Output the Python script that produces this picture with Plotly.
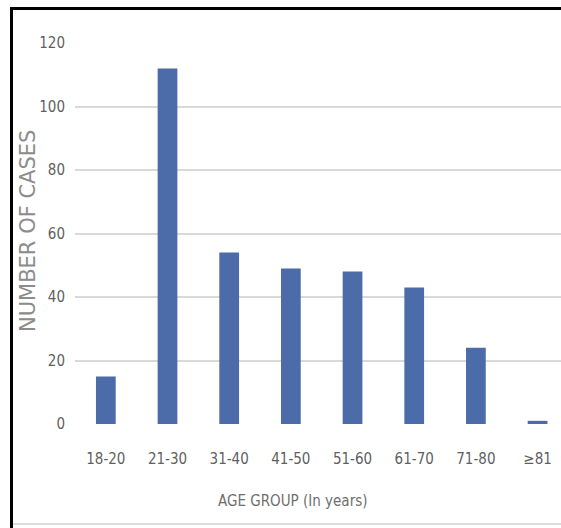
import plotly.graph_objects as go

categories = ["18-20", "21-30", "31-40", "41-50", "51-60", "61-70", "71-80", "≥81"]
cases = [15, 112, 54, 49, 48, 43, 24, 1]
y_ticks = [0, 20, 40, 60, 80, 100, 120]

W, H = 561, 528
L, R, T, B = 75, 0, 43, 104
pw, ph = W - L - R, H - T - B

def px_x(x):
    return (x - L) / pw

def px_y(y):
    return (H - B - y) / ph

narrow = "Liberation Sans Narrow, DejaVu Sans Condensed, sans-serif"

fig = go.Figure(go.Bar(
    x=list(range(len(categories))),
    y=cases,
    marker=dict(color="#4b6ca8", line=dict(width=0)),
    width=0.32,
    hoverinfo="skip",
))

fig.update_layout(
    width=W, height=H,
    margin=dict(l=L, r=R, t=T, b=B, pad=0),
    paper_bgcolor="white",
    plot_bgcolor="white",
    showlegend=False,
    xaxis=dict(
        range=[-0.5, 7.38],
        tickmode="array",
        tickvals=list(range(len(categories))),
        ticktext=categories,
        showgrid=False,
        zeroline=False,
        showline=False,
        ticks="",
        tickfont=dict(family=narrow, size=15, color="#5f5f5f"),
        ticklabelstandoff=24,
    ),
    yaxis=dict(
        range=[0, 120],
        tickmode="array",
        tickvals=y_ticks,
        showgrid=True,
        gridcolor="#d9d9d9",
        gridwidth=2,
        zeroline=False,
        showline=False,
        ticks="",
        tickfont=dict(family=narrow, size=15, color="#5f5f5f"),
        ticklabelstandoff=9,
    ),
    annotations=[
        dict(text="NUMBER OF CASES", xref="paper", yref="paper",
             x=px_x(28), y=px_y(231), textangle=-90, showarrow=False,
             xanchor="center", yanchor="middle",
             font=dict(family="DejaVu Sans, sans-serif", size=21, color="#8c8c8c")),
        dict(text="AGE GROUP (In years)", xref="paper", yref="paper",
             x=px_x(292), y=px_y(501), showarrow=False,
             xanchor="center", yanchor="middle",
             font=dict(family=narrow, size=15, color="#6f6f6f")),
    ],
    shapes=[
        dict(type="rect", xref="paper", yref="paper",
             x0=px_x(10), x1=px_x(13), y0=px_y(528), y1=px_y(7),
             fillcolor="black", line=dict(width=0), layer="above"),
        dict(type="rect", xref="paper", yref="paper",
             x0=px_x(10), x1=px_x(561), y0=px_y(10), y1=px_y(7),
             fillcolor="black", line=dict(width=0), layer="above"),
        dict(type="line", xref="paper", yref="paper",
             x0=px_x(13), x1=px_x(561), y0=px_y(524), y1=px_y(524),
             line=dict(color="#dddddd", width=2), layer="above"),
    ],
)

fig.write_html(
    "out.html",
    config={"displayModeBar": False},
    post_script="document.body.style.margin='0';document.body.style.overflow='hidden';",
)
